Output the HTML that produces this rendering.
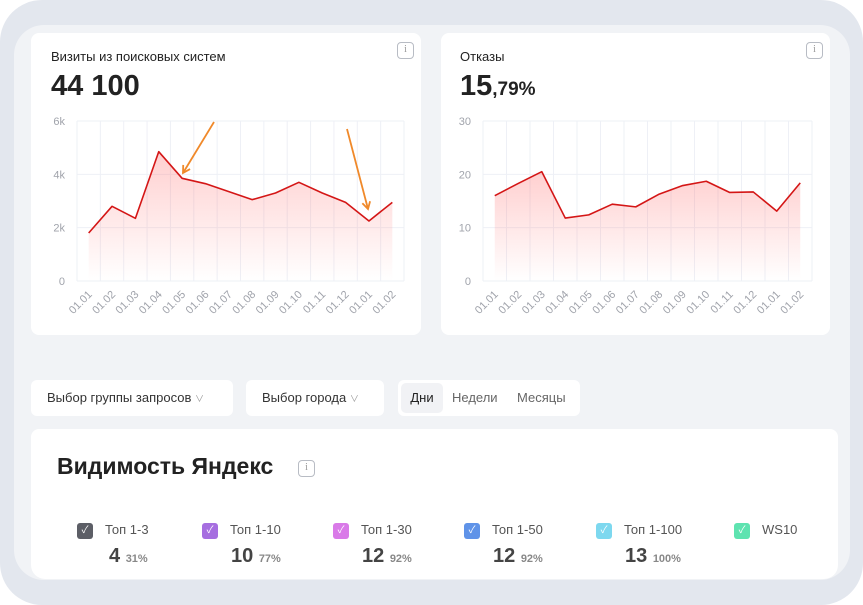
<!DOCTYPE html>
<html><head><meta charset="utf-8"><style>
*{box-sizing:border-box;margin:0;padding:0}
body{width:863px;height:605px;background:#fff;font-family:"Liberation Sans","Noto Sans CJK SC",sans-serif;position:relative;overflow:hidden}
.frame{position:absolute;left:0;top:0;width:863px;height:605px;background:#e3e7ee;border-radius:42px}
.panel{position:absolute;left:14px;top:25px;width:836px;height:555px;background:#f1f3f6;border-radius:30px;overflow:hidden}
.card{position:absolute;background:#fff;border-radius:8px}
.info{position:absolute;width:17px;height:17px;border:1.5px solid #b8bcc4;border-radius:4px;font-size:10px;color:#999;text-align:center;line-height:14px;font-family:"Liberation Serif",serif}
.title{position:absolute;font-size:13px;color:#222}
.big{position:absolute;font-size:29px;font-weight:bold;color:#222}
.btn{position:absolute;top:380px;height:36px;background:#fff;border-radius:6px;font-size:13px;color:#333;line-height:36px;padding-left:16px}
.leg{position:absolute;top:522px;font-size:13px;color:#555}
.cb{display:inline-block;width:16px;height:16px;border-radius:3px;color:#fff;font-size:10px;text-align:center;line-height:16px;vertical-align:middle;margin-right:12px}
.val{position:absolute;top:545px;font-size:20px;font-weight:bold;color:#444}
.val small{font-size:11px;color:#888;font-weight:bold}
</style></head><body>
<div class="frame"></div>
<div class="panel"></div>

<div class="card" style="left:31px;top:33px;width:390px;height:302px"></div>
<div class="title" style="left:51px;top:49px">Визиты из поисковых систем</div>
<div class="big" style="left:51px;top:70px">44 100</div>
<div class="info" style="left:397px;top:42px">i</div>

<div class="card" style="left:441px;top:33px;width:389px;height:302px"></div>
<div class="title" style="left:460px;top:49px">Отказы</div>
<div class="big" style="left:460px;top:70px">15<span style="font-size:19px">,79%</span></div>
<div class="info" style="left:806px;top:42px">i</div>

<svg id="chart" width="863" height="605" style="position:absolute;left:0;top:0">
<defs><linearGradient id="g" x1="0" y1="0" x2="0" y2="1"><stop offset="0" stop-color="#f55" stop-opacity="0.28"/><stop offset="1" stop-color="#f55" stop-opacity="0"/></linearGradient>
<marker id="ah" markerWidth="10" markerHeight="10" refX="8" refY="5" orient="auto" markerUnits="userSpaceOnUse"><path d="M1,1 L8,5 L1,9" fill="none" stroke="#f0892a" stroke-width="1.8"/></marker></defs>
</svg>

<div class="btn" style="left:31px;width:202px">Выбор группы запросов <span style="font-size:9px;color:#999">&#8744;</span></div>
<div class="btn" style="left:246px;width:138px">Выбор города <span style="font-size:9px;color:#999">&#8744;</span></div>
<div class="btn" style="left:398px;width:182px;padding-left:0"></div>
<div style="position:absolute;left:401px;top:383px;width:42px;height:30px;background:#f1f2f5;border-radius:5px;font-size:13px;line-height:30px;text-align:center;color:#222">Дни</div>
<div style="position:absolute;left:452px;top:383px;font-size:13px;line-height:30px;color:#666">Недели</div>
<div style="position:absolute;left:517px;top:383px;font-size:13px;line-height:30px;color:#666">Месяцы</div>

<div class="card" style="left:31px;top:429px;width:807px;height:150px;border-radius:8px 8px 14px 14px"></div>
<div style="position:absolute;left:57px;top:453px;font-size:23px;font-weight:bold;color:#222">Видимость Яндекс</div>
<div class="info" style="left:298px;top:460px">i</div>

<div class="leg" style="left:77px"><span class="cb" style="background:#5c5e66">✓</span>Топ 1-3</div>
<div class="leg" style="left:202px"><span class="cb" style="background:#a66ee0">✓</span>Топ 1-10</div>
<div class="leg" style="left:333px"><span class="cb" style="background:#d97ae8">✓</span>Топ 1-30</div>
<div class="leg" style="left:464px"><span class="cb" style="background:#5f93e8">✓</span>Топ 1-50</div>
<div class="leg" style="left:596px"><span class="cb" style="background:#7dd8ef">✓</span>Топ 1-100</div>
<div class="leg" style="left:734px"><span class="cb" style="background:#5ee3b0">✓</span>WS10</div>
<div class="val" style="left:109px">4 <small>31%</small></div>
<div class="val" style="left:231px">10 <small>77%</small></div>
<div class="val" style="left:362px">12 <small>92%</small></div>
<div class="val" style="left:493px">12 <small>92%</small></div>
<div class="val" style="left:625px">13 <small>100%</small></div>

<script>
const categories=["01.01","01.02","01.03","01.04","01.05","01.06","01.07","01.08","01.09","01.10","01.11","01.12","01.01","01.02"];
const visitsValues=[1800,2800,2350,4850,3850,3650,3350,3050,3300,3700,3300,2950,2250,2950];
const bounceValues=[16,18.3,20.5,11.8,12.4,14.4,13.9,16.3,17.9,18.7,16.6,16.7,13.1,18.4];
const visitsTicks=[0,2000,4000,6000];
const visitsTickLabels=["0","2k","4k","6k"];
const bounceTicks=[0,10,20,30];
const bounceTickLabels=["0","10","20","30"];
const svg=document.getElementById('chart');
const NS='http://www.w3.org/2000/svg';
function mk(t,a){const e=document.createElementNS(NS,t);for(const k in a)e.setAttribute(k,a[k]);svg.appendChild(e);return e;}
function draw(prefix,x0,x1,yTop,yBot,max,vals,ticks,labels){
  const n=categories.length, step=(x1-x0)/n;
  const xs=i=>x0+step*(i+0.5);
  const ys=v=>yBot-(v/max)*(yBot-yTop);
  for(let i=0;i<=n;i++){const l=mk('line',{x1:x0+step*i,x2:x0+step*i,y1:yTop,y2:yBot,stroke:'#eef0f6','stroke-width':1});
    }
  ticks.forEach((t,i)=>{const l=mk('line',{x1:x0,x2:x1,y1:ys(t),y2:ys(t),stroke:'#eef0f6','stroke-width':1});
    
    const tx=mk('text',{x:x0-12,y:ys(t)+4,'text-anchor':'end','font-size':11,fill:'#a0a3ab','font-family':'Liberation Sans'});
    tx.textContent=labels[i];
    });
  let d='';vals.forEach((v,i)=>{d+=(i?'L':'M')+xs(i)+','+ys(v);});
  const a=mk('path',{d:d+'L'+xs(n-1)+','+yBot+'L'+xs(0)+','+yBot+'Z',fill:'url(#g)'});
  
  const p=mk('path',{d:d,fill:'none',stroke:'#d41616','stroke-width':1.6,'stroke-linejoin':'round'});
  
  categories.forEach((c,i)=>{const x=xs(i)+4,y=yBot+14;
    const t=mk('text',{x:x,y:y,'text-anchor':'end','font-size':11,fill:'#a0a3ab','font-family':'Liberation Sans',transform:'rotate(-45 '+x+' '+y+')'});
    t.textContent=c;
    });
}
draw('visits',77,404,121,281,6000,visitsValues,visitsTicks,visitsTickLabels);
draw('bounce',483,812,121,281,30,bounceValues,bounceTicks,bounceTickLabels);
const a1=mk('line',{x1:214,y1:122,x2:183,y2:173,stroke:'#f0892a','stroke-width':1.8,'marker-end':'url(#ah)'});

const a2=mk('line',{x1:347,y1:129,x2:368,y2:209,stroke:'#f0892a','stroke-width':1.8,'marker-end':'url(#ah)'});

</script>
</body></html>
